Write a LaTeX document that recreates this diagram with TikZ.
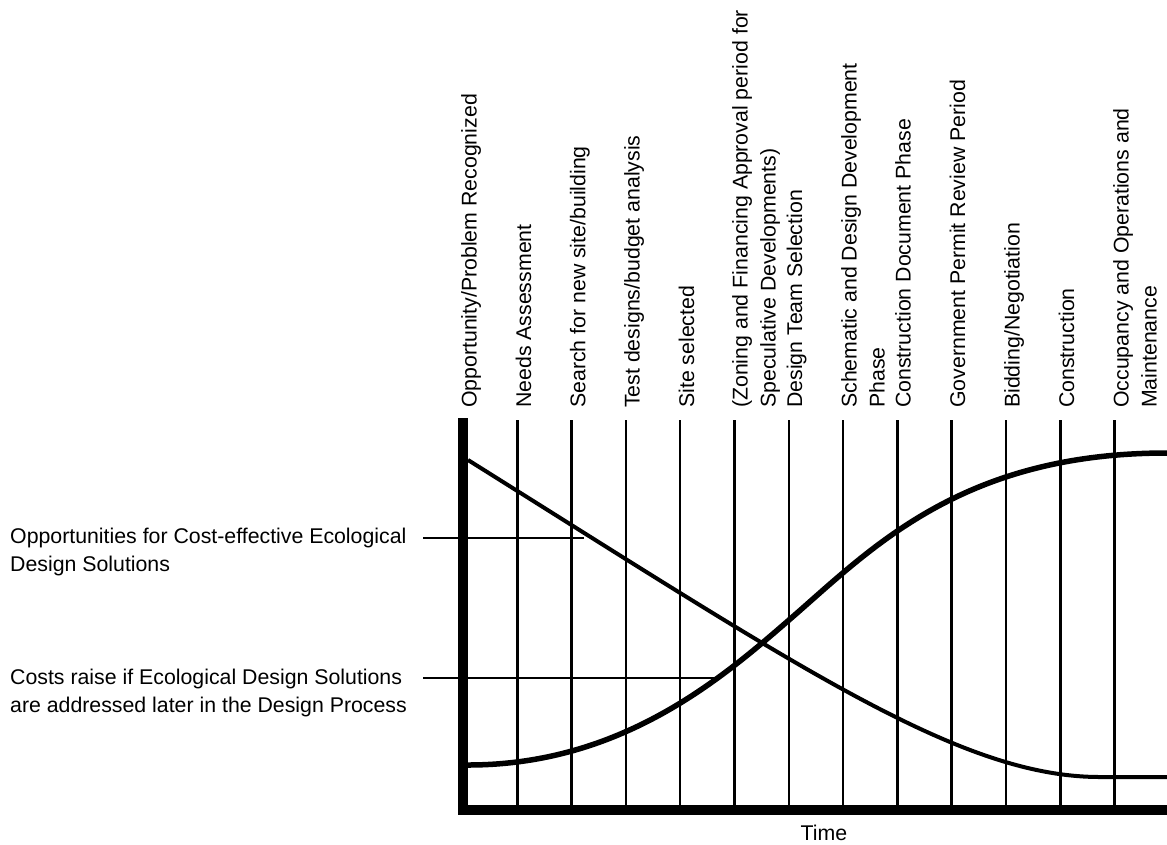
\documentclass[tikz,border=0pt]{standalone}
\usepackage{fontspec}
\setmainfont{Liberation Sans}
\newcommand{\phasefont}{\fontsize{21.3}{28}\selectfont}

\begin{document}
\begin{tikzpicture}[x=1pt, y=-1pt,
  axisline/.style={line width=10pt},
  gridline/.style={line width=2.5pt},
  leader/.style={line width=2.5pt},
  phase/.style={rotate=90, anchor=north west, inner sep=0pt, align=left, font=\phasefont},
  sidenote/.style={anchor=north west, inner sep=0pt, align=left, font=\phasefont}]
  \useasboundingbox (0,0) rectangle (1167,844);
  % Phase grid
  \foreach \i in {1,...,12} {
    \draw[gridline] ({463+54.3*\i},420) -- ({463+54.3*\i},806);
  }
  % Axes
  \draw[axisline] (463,418) -- (463,810) -- (1167,810);
  \node[font=\phasefont, anchor=base] (timelbl) at (824,840) {Time};

  % Phase labels
  \node[phase] (ph0) at (461,408) {Opportunity/Problem Recognized};
  \node[phase] (ph1) at (515.5,408) {Needs Assessment};
  \node[phase] (ph2) at (569.8,408) {Search for new site/building};
  \node[phase] (ph3) at (624.1,408) {Test designs/budget analysis};
  \node[phase] (ph4) at (678.4,408) {Site selected};
  \node[phase] (ph5) at (732,408) {(Zoning and Financing Approval period for\\Speculative Developments)};
  \node[phase] (ph6) at (786.5,408) {Design Team Selection};
  \node[phase] (ph7) at (841,408) {Schematic and Design Development\\Phase};
  \node[phase] (ph8) at (895,408) {Construction Document Phase};
  \node[phase] (ph9) at (949.5,408) {Government Permit Review Period};
  \node[phase] (ph10) at (1004,408) {Bidding/Negotiation};
  \node[phase] (ph11) at (1058.5,408) {Construction};
  \node[phase] (ph12) at (1113,408) {Occupancy and Operations and\\Maintenance};

  % Notes on the left
  \node[sidenote] (oppnote) at (10,527.5) {Opportunities for Cost-effective Ecological\\Design Solutions};
  \node[sidenote] (costnote) at (10,668.5) {Costs raise if Ecological Design Solutions\\are addressed later in the Design Process};
  \coordinate (oppstart) at (423,538);
  \coordinate (oppend) at (584,538);
  \coordinate (coststart) at (423,678);
  \coordinate (costend) at (720,678);
  \draw[leader] (oppstart) -- (oppend);
  \draw[leader] (coststart) -- (costend);

  % Falling curve: opportunities
  \draw[line width=4pt, line join=round]
    (468,460) .. controls (800,668) and (960,777) .. (1100,777) -- (1167,777);
  % Rising curve: costs
  \draw[line width=5.5pt, line join=round]
    (468,765) .. controls (620,765) and (720,680) .. (789,620)
    .. controls (870,550) and (960,453) .. (1167,453);
\end{tikzpicture}
\end{document}
